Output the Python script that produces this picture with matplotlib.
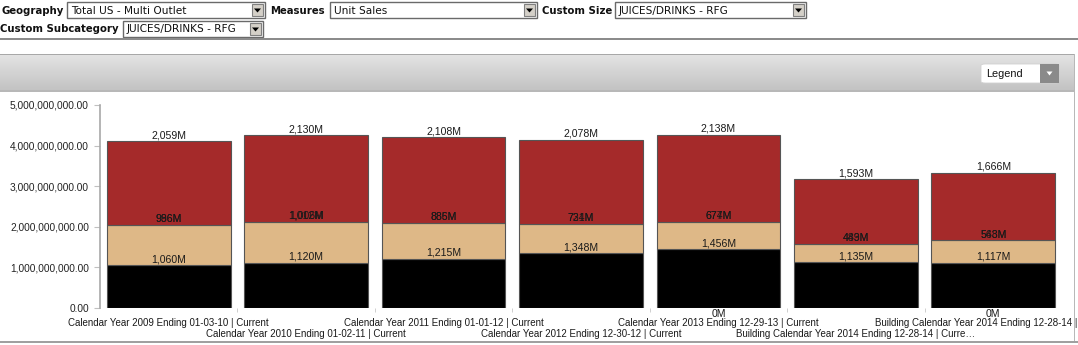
import matplotlib
matplotlib.use("Agg")
import matplotlib.pyplot as plt
from matplotlib.patches import Rectangle, FancyBboxPatch, Polygon
from matplotlib.ticker import FuncFormatter
import numpy as np

# ---------------- data (millions of units) ----------------
tick_labels = [
    "Calendar Year 2009 Ending 01-03-10 | Current",
    "Calendar Year 2010 Ending 01-02-11 | Current",
    "Calendar Year 2011 Ending 01-01-12 | Current",
    "Calendar Year 2012 Ending 12-30-12 | Current",
    "Calendar Year 2013 Ending 12-29-13 | Current",
    "Building Calendar Year 2014 Ending 12-28-14 | Curre\u2026",
    "Building Calendar Year 2014 Ending 12-28-14 | Current",
]
base_values = [1060, 1120, 1215, 1348, 1456, 1135, 1117]      # black
mid_values = [996, 1006, 886, 724, 674, 449, 548]              # tan
top_values = [2059, 2130, 2108, 2078, 2138, 1593, 1666]        # red
mid_alt_labels = ["986M", "1,012M", "885M", "731M", "677M", "483M", "563M"]
zero_labels = ["", "", "", "", "0M", "", "0M"]

y_ticks = [0, 1e9, 2e9, 3e9, 4e9, 5e9]

filters_row1 = [("Geography", "Total US - Multi Outlet"),
                ("Measures", "Unit Sales"),
                ("Custom Size", "JUICES/DRINKS - RFG")]
filters_row2 = [("Custom Subcategory", "JUICES/DRINKS - RFG")]

# ---------------- figure ----------------
W, H = 1078, 345
fig = plt.figure(figsize=(W / 100, H / 100), dpi=100)
fig.patch.set_facecolor("white")


def fx(x):
    return x / W


def fy(y):
    return 1 - y / H


def rect(x0, y0, x1, y1, **kw):
    r = Rectangle((fx(x0), fy(y1)), fx(x1) - fx(x0), fy(y0) - fy(y1),
                  transform=fig.transFigure, **kw)
    fig.add_artist(r)
    return r


def dropdown(x0, x1, y0, y1, text):
    rect(x0, y0, x1, y1, facecolor="white", edgecolor="#6a6a6a", linewidth=1.0)
    rect(x1 - 13, y0 + 2, x1 - 2, y1 - 2, facecolor="#d4d0c8", edgecolor="#808080", linewidth=0.8)
    cx, cy = x1 - 7.5, (y0 + y1) / 2
    tri = Polygon([(fx(cx - 3.5), fy(cy - 1.5)), (fx(cx + 3.5), fy(cy - 1.5)), (fx(cx), fy(cy + 2.5))],
                  closed=True, transform=fig.transFigure, facecolor="black", edgecolor="none")
    fig.add_artist(tri)
    fig.text(fx(x0 + 4), fy((y0 + y1) / 2 + 0.5), text, fontsize=7.6, family="DejaVu Sans",
             va="center", ha="left", color="#111111")


# filter bar
label_pos1 = [(2, 67, 265), (270, 330, 537), (542, 615, 806)]
for (lab, val), (lx, b0, b1) in zip(filters_row1, label_pos1):
    fig.text(fx(lx), fy(10.5), lab, fontsize=7.3, fontweight="bold", family="DejaVu Sans",
             va="center", ha="left", color="#111111")
    dropdown(b0, b1, 2, 18, val)
for (lab, val), (lx, b0, b1) in zip(filters_row2, [(0, 123, 263)]):
    fig.text(fx(lx), fy(29.5), lab, fontsize=7.3, fontweight="bold", family="DejaVu Sans",
             va="center", ha="left", color="#111111")
    dropdown(b0, b1, 21, 37, val)

rect(0, 38, W, 40, facecolor="#8c8c8c", edgecolor="none")

# panel header gradient
grad = np.linspace(0, 1, 64).reshape(-1, 1)
hax = fig.add_axes([0, fy(91), fx(1074), fy(54) - fy(91)])
hax.imshow(grad, aspect="auto", cmap=matplotlib.colors.LinearSegmentedColormap.from_list(
    "g", ["#e4e4e4", "#c2c2c2"]), extent=[0, 1, 1, 0])
hax.set_axis_off()
rect(0, 54, 1074, 55, facecolor="#a8a8a8", edgecolor="none")
rect(0, 90.5, 1074, 91.5, facecolor="#b8b8b8", edgecolor="none")
rect(1073.5, 54, 1074.5, 341, facecolor="#b8b8b8", edgecolor="none")
rect(0, 341, W, 343, facecolor="#a0a0a0", edgecolor="none")

# Legend button
lb = FancyBboxPatch((fx(981), fy(83)), fx(1059) - fx(981), fy(64) - fy(83),
                    boxstyle="round,pad=0,rounding_size=0.004", transform=fig.transFigure,
                    facecolor="white", edgecolor="#d0d0d0", linewidth=0.6)
fig.add_artist(lb)
rect(1040, 64, 1059, 83, facecolor="#8a8a8a", edgecolor="none")
tri = Polygon([(fx(1046.5), fy(71.5)), (fx(1052.5), fy(71.5)), (fx(1049.5), fy(75.5))], closed=True,
              transform=fig.transFigure, facecolor="white", edgecolor="none")
fig.add_artist(tri)
fig.text(fx(986), fy(74), "Legend", fontsize=7.8, family="Liberation Sans", va="center", ha="left",
         color="#111111")

# ---------------- chart ----------------
ax = fig.add_axes([fx(100), fy(308), fx(1062) - fx(100), fy(105) - fy(308)])
x = np.arange(len(tick_labels))
base = np.array(base_values) * 1e6
mid = np.array(mid_values) * 1e6
top = np.array(top_values) * 1e6

bw = 0.9
ec = "#555555"
ax.bar(x, base, width=bw, color="black", edgecolor=ec, linewidth=0.8)
ax.bar(x, mid, bottom=base, width=bw, color="burlywood", edgecolor=ec, linewidth=0.8)
ax.bar(x, top, bottom=base + mid, width=bw, color="#A52A2A", edgecolor=ec, linewidth=0.8)

lab_kw = dict(fontsize=7.6, family="Liberation Sans", ha="center", va="bottom", color="#1a1a1a")
for i in x:
    ax.text(i, base[i] + 0.02e9, f"{base_values[i]:,}M", **lab_kw)
    ax.text(i, base[i] + mid[i] + 0.02e9, mid_alt_labels[i], **lab_kw)
    ax.text(i, base[i] + mid[i] + 0.02e9, f"{mid_values[i]:,}M", **lab_kw)
    ax.text(i, base[i] + mid[i] + top[i] + 0.02e9, f"{top_values[i]:,}M", **lab_kw)
    if zero_labels[i]:
        ax.text(i, -0.03e9, zero_labels[i], fontsize=7.6, family="Liberation Sans",
                ha="center", va="top", color="#1a1a1a", clip_on=False)

ax.set_xlim(-0.5, len(x) - 0.5)
ax.set_ylim(0, 5e9)
ax.set_yticks(y_ticks)
ax.yaxis.set_major_formatter(FuncFormatter(lambda v, p: f"{v:,.2f}"))
for t in ax.get_yticklabels():
    t.set_family("Liberation Sans")
    t.set_fontsize(7.3)
    t.set_color("#222222")
ax.tick_params(axis="y", length=4, color="#c0c0c0", pad=4)
ax.set_xticks(x[:-1] + 0.5, minor=True)
ax.set_xticks([])
ax.tick_params(axis="x", which="minor", length=3, color="#c8c8c8", direction="out")
for s in ["top", "right", "bottom"]:
    ax.spines[s].set_visible(False)
ax.spines["left"].set_color("#a8a8a8")
ax.spines["left"].set_linewidth(1.2)

for i, lab in enumerate(tick_labels):
    yy = -0.074 if i % 2 == 0 else -0.128
    ax.text(i, yy, lab, transform=ax.get_xaxis_transform(), fontsize=7.0, family="Liberation Sans",
            ha="center", va="center", color="#1a1a1a", clip_on=False)

fig.savefig("out.png", dpi=100)
